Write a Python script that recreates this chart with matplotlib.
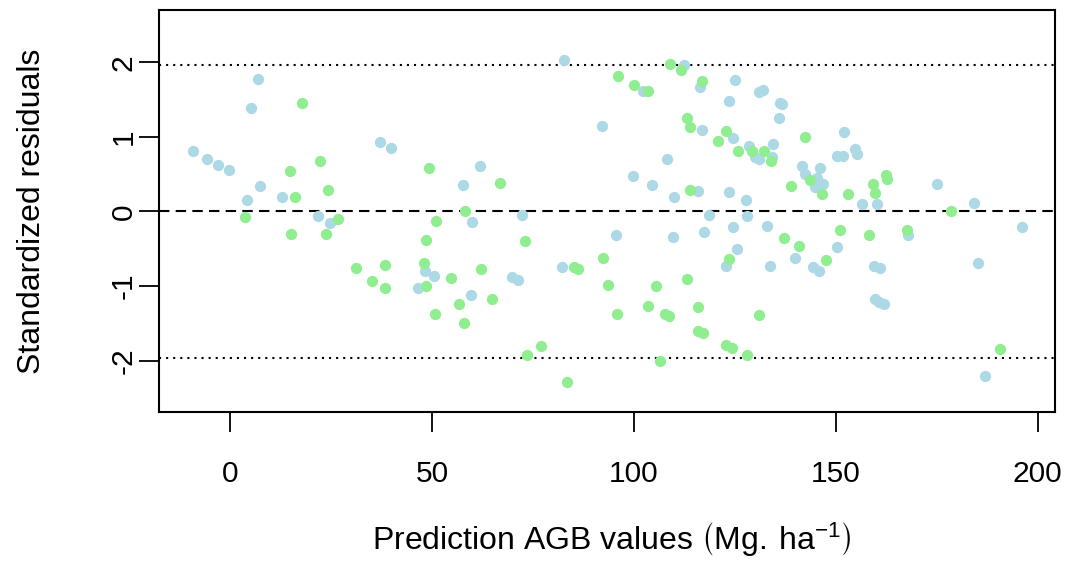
import matplotlib
matplotlib.use("Agg")
import matplotlib.pyplot as plt
import numpy as np

plt.rcParams['font.family'] = ['Liberation Sans', 'DejaVu Sans']
plt.rcParams['mathtext.default'] = 'regular'

# blue group
blue_x = [-9.24, -5.62, -3.05, -0.32, 6.86, 5.27, 7.50, 4.21, 12.88, 21.79,
          24.84, 37.14, 39.94, 48.21, 50.44, 46.55, 57.77, 60.00, 61.90, 59.75,
          69.83, 71.31, 72.38, 82.28, 82.78, 92.04, 95.51, 99.86, 102.19, 104.57,
          108.13, 109.77, 110.02, 112.49, 115.96, 116.31, 116.87, 117.44, 118.53, 122.74,
          123.56, 123.63, 124.48, 124.48, 124.97, 125.42, 127.77, 127.94, 128.59, 129.92,
          130.99, 130.99, 131.90, 132.85, 133.79, 134.28, 134.46, 136.01, 136.19, 136.69,
          139.90, 141.56, 142.30, 144.28, 144.85, 145.28, 145.67, 146.02, 145.85, 146.91,
          150.23, 150.38, 151.72, 151.96, 154.76, 155.26, 156.57, 159.40, 159.71, 160.13,
          160.78, 160.95, 161.94, 167.96, 175.07, 184.30, 185.29, 186.95, 196.19]
blue_y = [0.807, 0.700, 0.627, 0.556, 1.772, 1.391, 0.342, 0.154, 0.190, -0.064,
          -0.150, 0.928, 0.851, -0.798, -0.861, -1.029, 0.351, -0.137, 0.614, -1.119,
          -0.878, -0.918, -0.051, -0.748, 2.031, 1.146, -0.315, 0.480, 1.611, 0.351,
          0.704, -0.346, 0.194, 1.968, 0.271, 1.673, 1.088, -0.279, -0.043, -0.727,
          1.481, 0.265, 0.989, -0.204, 1.763, -0.499, 0.150, -0.060, 0.882, 0.727,
          0.700, 1.598, 1.629, -0.197, -0.731, 0.727, 0.905, 1.257, 1.458, 1.441,
          -0.627, 0.614, 0.503, -0.748, 0.332, 0.445, 0.399, 0.583, -0.798, 0.369,
          0.744, -0.476, 0.744, 1.070, 0.834, 0.767, 0.105, -0.727, -1.177, 0.105,
          -1.209, -0.761, -1.244, -0.319, 0.373, 0.118, -0.694, -2.205, -0.212]

# green group
green_x = [3.79, 14.93, 15.10, 16.17, 17.83, 22.21, 23.77, 24.19, 26.74, 31.20,
           35.09, 38.38, 38.38, 48.04, 48.46, 48.46, 49.20, 50.69, 51.08, 54.80,
           56.70, 57.94, 58.19, 62.08, 64.95, 66.93, 73.05, 73.62, 77.08, 83.37,
           85.18, 86.10, 92.29, 93.67, 95.75, 96.15, 100.11, 103.50, 103.58, 105.48,
           106.48, 107.79, 108.78, 108.95, 111.75, 113.09, 113.24, 113.91, 113.98, 115.96,
           115.96, 116.95, 117.12, 120.76, 122.82, 122.82, 123.44, 124.30, 125.67, 127.94,
           129.33, 130.92, 132.31, 133.96, 137.06, 138.92, 140.82, 142.46, 143.62, 146.59,
           147.58, 150.93, 153.03, 158.16, 159.30, 159.71, 162.44, 162.76, 167.57, 178.46,
           190.74]
green_y = [-0.070, 0.547, -0.308, 0.194, 1.450, 0.673, -0.308, 0.292, -0.105, -0.757,
           -0.936, -0.721, -1.029, -0.694, -0.999, -0.379, 0.579, -1.374, -0.127, -0.887,
           -1.236, -1.499, 0.007, -0.767, -1.169, 0.378, -0.395, -1.928, -1.799, -2.282,
           -0.748, -0.771, -0.623, -0.981, -1.370, 1.816, 1.700, 1.611, -1.263, -0.995,
           -2.000, -1.378, -1.401, 1.981, 1.897, -0.905, 1.249, 0.284, 1.137, -1.284,
           -1.598, 1.753, -1.633, 0.949, 1.079, -1.796, -0.645, -1.830, 0.814, -1.924,
           0.811, -1.391, 0.811, 0.673, -0.353, 0.342, -0.462, 0.999, 0.422, 0.231,
           -0.650, -0.248, 0.235, -0.312, 0.365, 0.252, 0.489, 0.440, -0.248, 0.003,
           -1.847]

xticks = [0, 50, 100, 150, 200]
yticks = [-2, -1, 0, 1, 2]

fig = plt.figure(figsize=(10.69, 5.63), dpi=100)
ax = fig.add_axes([0.1487, 0.2682, 0.8382, 0.7140])

ax.scatter(blue_x, blue_y, s=66, color='lightblue', linewidths=0, zorder=3)
ax.scatter(green_x, green_y, s=66, color='lightgreen', linewidths=0, zorder=3)

ax.axhline(0, color='black', lw=1.5, dashes=(5, 3), zorder=2)
ax.axhline(1.96, color='black', lw=1.5, dashes=(1, 2.4), zorder=2)
ax.axhline(-1.96, color='black', lw=1.5, dashes=(1, 2.4), zorder=2)

ax.set_xlim(-17.58, 204.28)
ax.set_ylim(-2.69, 2.70)
ax.set_xticks(xticks)
ax.set_xticklabels([str(v) for v in xticks])
ax.set_yticks(yticks)
ax.set_yticklabels([str(v) for v in yticks], rotation=90, va='center')

for s in ax.spines.values():
    s.set_linewidth(1.5)
ax.tick_params(axis='both', length=14.5, width=1.3, labelsize=21.5)
ax.tick_params(axis='x', pad=20)
ax.tick_params(axis='y', pad=1)

fig.text(0.03, 0.2682 + 0.7140 / 2, 'Standardized residuals', rotation=90,
         ha='center', va='center', fontsize=23)
fig.text(0.5725, 1 - 540 / 563, 'Prediction AGB values $\\left(Mg.\\,ha^{-1}\\right)$',
         ha='center', va='center', fontsize=23)

fig.savefig('out.png', dpi=100, facecolor='white')
